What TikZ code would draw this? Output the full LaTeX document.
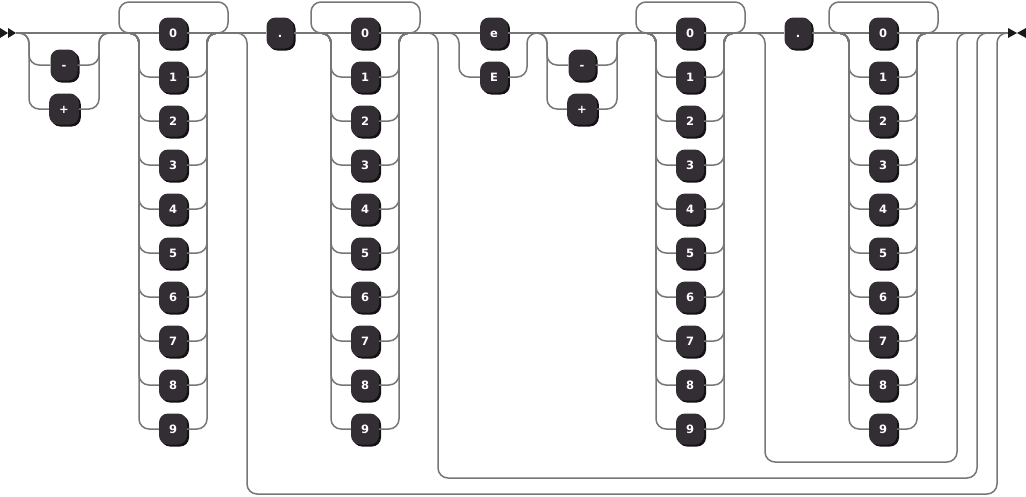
\documentclass[tikz,border=0pt]{standalone}
\usepackage{fontspec}
\newfontfamily\tokfont{DejaVu Sans}
\definecolor{wirec}{RGB}{118,118,118}
\definecolor{tokfill}{RGB}{51,46,51}
\definecolor{tokshadow}{RGB}{20,18,20}
\tikzset{
  wire/.style={draw=wirec, line width=1.5pt},
  rr/.style={wire, rounded corners=10pt},
  tok/.style={rounded corners=9pt, fill=tokfill, text=white,
    minimum width=27pt, minimum height=31pt, inner xsep=10pt, inner ysep=0pt,
    text height=8.4pt, text depth=0pt, font=\tokfont\bfseries\fontsize{11.5}{12}\selectfont,
    preaction={fill=tokshadow, transform canvas={xshift=2pt,yshift=-2pt}}},
  tip/.style={fill=black!90}
}
\newcommand\DigitBlock[2]{%
  \foreach \i in {0,...,9} {
    \node[tok] (#1-\i) at ({#2},{33+44*\i}) {\i};
  }
  \foreach \i in {1,...,9} {
    \draw[rr] ({#2-44},33) -| ({#2-34},{33+44*\i}) -- (#1-\i.west);
    \draw[rr] (#1-\i.east) -| ({#2+34},33) -- ({#2+44},33);
  }
  \draw[rr] ({#2+45},33) -| ({#2+55},2) -| ({#2-54},33) -- ({#2-44},33);
}
\begin{document}
\begin{tikzpicture}[x=1pt,y=-1pt]
\useasboundingbox (0,0) rectangle (1026,496);
% start / end markers
\coordinate (s) at (16,33);
\coordinate (t) at (1008,33);
\fill[tip] (0,28) -- (8,33) -- (0,38) -- cycle;
\fill[tip] (8,28) -- (16,33) -- (8,38) -- cycle;
\fill[tip] (1008,28) -- (1017,33) -- (1008,38) -- cycle;
\fill[tip] (1026,28) -- (1017,33) -- (1026,38) -- cycle;
% sign 1
\node[tok] (m1) at (64,65) {-};
\node[tok] (p1) at (64,109) {+};
\draw[rr] (19,33) -| (29,65) -- (m1.west);
\draw[rr] (19,33) -| (29,109) -- (p1.west);
\draw[rr] (m1.east) -| (99,33) -- (109,33);
\draw[rr] (p1.east) -| (99,33) -- (109,33);
% digits blocks
\DigitBlock{da}{173}
\DigitBlock{db}{365}
\DigitBlock{dc}{690}
\DigitBlock{dd}{883}
% dots
\node[tok] (dot1) at (280,33) {.};
\node[tok] (dot2) at (798,33) {.};
% e / E
\node[tok] (ee) at (494,33) {e};
\node[tok] (EE) at (494,77) {E};
\draw[rr] (449,33) -| (459,77) -- (EE.west);
\draw[rr] (EE.east) -| (527,33) -- (537,33);
% sign 2
\node[tok] (m2) at (582,65) {-};
\node[tok] (p2) at (582,109) {+};
\draw[rr] (537,33) -| (547,65) -- (m2.west);
\draw[rr] (537,33) -| (547,109) -- (p2.west);
\draw[rr] (m2.east) -| (617,33) -- (627,33);
\draw[rr] (p2.east) -| (617,33) -- (627,33);
% main line
\draw[wire] (s) -- (da-0);
\draw[wire] (da-0) -- (dot1);
\draw[wire] (dot1) -- (db-0);
\draw[wire] (db-0) -- (ee);
\draw[wire] (ee) -- (dc-0);
\draw[wire] (dc-0) -- (dot2);
\draw[wire] (dot2) -- (dd-0);
\draw[wire] (dd-0) -- (t);
% bypasses
\draw[rr] (237,33) -| (247,494) -| (997,33) -- (1007,33);
\draw[rr] (428,33) -| (438,478) -| (977,33) -- (987,33);
\draw[rr] (755,33) -| (765,462) -| (957,33) -- (967,33);
\end{tikzpicture}
\end{document}
